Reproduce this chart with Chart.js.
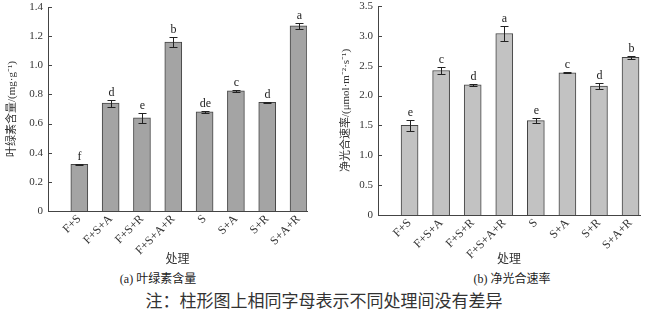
<!DOCTYPE html>
<html>
<head>
<meta charset="utf-8">
<script src="https://cdn.jsdelivr.net/npm/chart.js@4"></script>
<style>
  body { margin: 0; background: #fff; width: 650px; height: 310px; position: relative; overflow: hidden;
         font-family: "Liberation Serif", "Noto Sans CJK SC", serif; color: #222; }
  .box { position: absolute; top: 0; height: 266px; }
  .cap { position: absolute; font-size: 12px; transform: translateX(-50%); white-space: nowrap; }
</style>
</head>
<body>
<div class="box" style="left:0;width:320px"><canvas id="chlChart"></canvas></div>
<div class="box" style="left:325px;width:325px"><canvas id="pnChart"></canvas></div>
<div class="cap" style="left:158px;top:269px">(a) 叶绿素含量</div>
<div class="cap" style="left:512px;top:269px">(b) 净光合速率</div>
<div class="cap" style="left:324px;top:287px;font-size:17px;color:#333">注：柱形图上相同字母表示不同处理间没有差异</div>
<script>
const treatments = ['F+S', 'F+S+A', 'F+S+R', 'F+S+A+R', 'S', 'S+A', 'S+R', 'S+A+R'];

const chlValues = [0.32, 0.74, 0.64, 1.16, 0.68, 0.825, 0.745, 1.27];
const chlErrors = [0.005, 0.025, 0.035, 0.032, 0.006, 0.005, 0.003, 0.02];
const chlLetters = ['f', 'd', 'e', 'b', 'de', 'c', 'd', 'a'];
const chlTicks = [0, 0.2, 0.4, 0.6, 0.8, 1.0, 1.2, 1.4];

const pnValues = [1.50, 2.42, 2.18, 3.04, 1.58, 2.38, 2.16, 2.64];
const pnErrors = [0.09, 0.06, 0.02, 0.12, 0.04, 0.01, 0.05, 0.02];
const pnLetters = ['e', 'c', 'd', 'a', 'e', 'c', 'd', 'b'];
const pnTicks = [0, 0.5, 1.0, 1.5, 2.0, 2.5, 3.0, 3.5];

// error bars, significance letters and inward y ticks
const errorBarPlugin = {
    id: 'errorBars',
    afterDatasetsDraw(chart) {
        const { ctx, scales: { x, y } } = chart;
        const ds = chart.data.datasets[0];
        const meta = chart.getDatasetMeta(0);
        ctx.save();
        ctx.strokeStyle = '#222';
        ctx.lineWidth = 1;
        ctx.fillStyle = '#222';
        ctx.font = '12px "Liberation Serif"';
        ctx.textAlign = 'center';
        ctx.textBaseline = 'alphabetic';
        meta.data.forEach((bar, i) => {
            const v = ds.data[i].y, e = ds.errors[i];
            const cx = Math.round(bar.x) + 0.5;
            const yTop = Math.round(y.getPixelForValue(v + e)) + 0.5;
            const yBot = Math.round(y.getPixelForValue(v - e)) + 0.5;
            ctx.beginPath();
            ctx.moveTo(cx, yTop); ctx.lineTo(cx, yBot);
            ctx.moveTo(cx - 4, yTop); ctx.lineTo(cx + 4, yTop);
            ctx.moveTo(cx - 4, yBot); ctx.lineTo(cx + 4, yBot);
            ctx.stroke();
            ctx.fillText(ds.letters[i], cx, yTop - 5);
        });
        ctx.strokeStyle = '#444';
        ctx.beginPath();
        y.ticks.forEach(t => {
            const py = Math.round(y.getPixelForValue(t.value)) + 0.5;
            ctx.moveTo(x.left, py);
            ctx.lineTo(x.left + 4, py);
        });
        ctx.stroke();
        ctx.restore();
    }
};

function makeChart(id, values, errors, letters, ticks, yTitle, cfg) {
    const tickFont = { family: '"Liberation Serif", "Noto Sans CJK SC"', size: 11 };
    const titleFont = { family: '"Liberation Serif", "Noto Sans CJK SC"', size: 11 };
    return new Chart(document.getElementById(id), {
        type: 'bar',
        data: {
            datasets: [{
                data: values.map((v, i) => ({ x: i + 1, y: v })),
                errors: errors,
                letters: letters,
                backgroundColor: cfg.color,
                borderColor: '#444',
                borderWidth: 1,
                barThickness: 17
            }]
        },
        options: {
            responsive: true,
            maintainAspectRatio: false,
            animation: false,
            layout: { padding: { left: 0, right: cfg.padRight, top: cfg.padTop, bottom: 0 } },
            plugins: { legend: { display: false }, tooltip: { enabled: false } },
            scales: {
                x: {
                    type: 'linear',
                    offset: false,
                    min: 0,
                    max: cfg.xMax,
                    grid: { display: false, drawTicks: false, offset: false },
                    border: { display: true, color: '#444', width: 1 },
                    afterBuildTicks: s => { s.ticks = treatments.map((_, i) => ({ value: i + 1 })); },
                    afterFit: s => {
                        s.height = cfg.xHeight;
                        s.paddingLeft = 0; s.paddingRight = 0;
                    },
                    ticks: {
                        autoSkip: false,
                        minRotation: 45,
                        maxRotation: 45,
                        padding: 1,
                        color: '#333',
                        font: { family: '"Liberation Serif"', size: 12 },
                        callback: v => treatments[v - 1]
                    },
                    title: { display: true, text: '处理', color: '#333', font: { size: 12, family: '"Noto Sans CJK SC"' }, padding: 0 }
                },
                y: {
                    min: 0,
                    max: ticks[ticks.length - 1],
                    grid: { display: false, drawTicks: false },
                    border: { display: true, color: '#444', width: 1 },
                    afterBuildTicks: s => { s.ticks = ticks.map(v => ({ value: v })); },
                    afterFit: s => {
                        s.width = cfg.yWidth;
                        s.paddingTop = 0; s.paddingBottom = 0;
                    },
                    ticks: {
                        padding: 5,
                        color: '#333',
                        font: tickFont,
                        callback: v => v === 0 ? '0' : v.toFixed(1)
                    },
                    title: { display: true, text: yTitle, color: '#333', font: titleFont, padding: { top: cfg.titlePad, bottom: 0 } }
                }
            }
        },
        plugins: [errorBarPlugin]
    });
}

makeChart('chlChart', chlValues, chlErrors, chlLetters, chlTicks, '叶绿素含量/(mg·g⁻¹)',
    { color: '#a4a4a4', padRight: 13, padTop: 7, xMax: 8.27, xHeight: 55, yWidth: 48, titlePad: 6 });
makeChart('pnChart', pnValues, pnErrors, pnLetters, pnTicks, '净光合速率/(μmol·m⁻²·s⁻¹)',
    { color: '#c2c2c2', padRight: 10, padTop: 6, xMax: 8.3, xHeight: 51, yWidth: 53, titlePad: 15 });
</script>
</body>
</html>
